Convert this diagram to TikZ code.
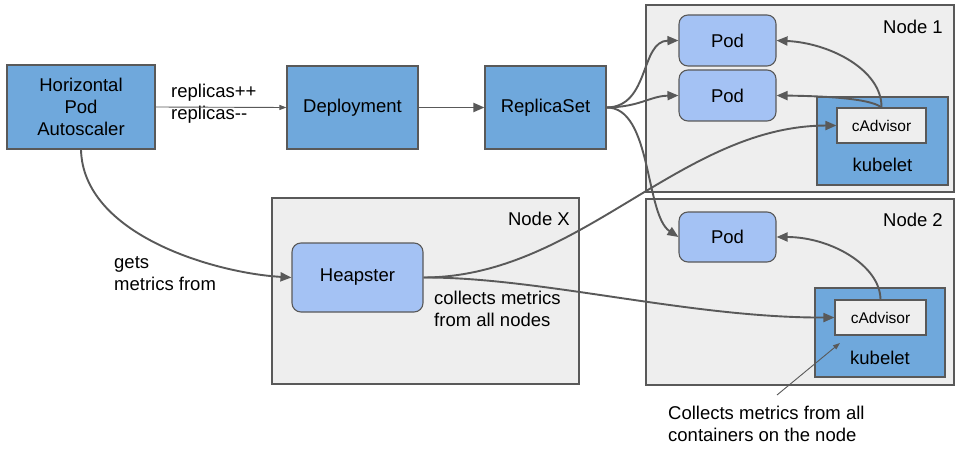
\documentclass[tikz,border=0pt]{standalone}
\usepackage{fontspec}
\setmainfont{Liberation Sans}
\usetikzlibrary{arrows.meta}
\definecolor{boxblue}{HTML}{6FA8DC}
\definecolor{podblue}{HTML}{A4C2F4}
\definecolor{nodegray}{HTML}{EEEEEE}
\definecolor{linegray}{HTML}{595959}
\tikzset{
  mainfont/.style={font=\fontsize{18.5}{22}\selectfont},
  box/.style={draw=linegray, line width=1.1pt, fill=boxblue, mainfont, align=center, inner sep=0pt},
  podbox/.style={draw=linegray, line width=1.1pt, fill=podblue, rounded corners=9pt, mainfont, inner sep=0pt},
  nodebox/.style={draw=linegray, line width=1.1pt, fill=nodegray, inner sep=0pt},
  cadv/.style={draw=linegray, line width=1.1pt, fill=nodegray, font=\fontsize{15.5}{18}\selectfont, inner sep=0pt},
  txt/.style={mainfont, inner sep=0pt, align=left},
  arr/.style={draw=linegray, line width=1.9pt, -{Triangle[length=11pt,width=9pt]}},
  thinarr/.style={draw=linegray, line width=0.9pt, -{Triangle[length=7pt,width=5pt]}},
}
\begin{document}
\begin{tikzpicture}[x=1pt,y=-1pt]
\useasboundingbox (0,0) rectangle (960,449);
\fill[white] (0,0) rectangle (960,449);
% container boxes
\node[nodebox, minimum width=308pt, minimum height=187pt] (node1) at (800,98.5) {};
\node[nodebox, minimum width=308pt, minimum height=186pt] (node2) at (800,292) {};
\node[nodebox, minimum width=307pt, minimum height=186pt] (nodex) at (425.5,291) {};
\node[txt, anchor=east] (node1lbl) at (943,27) {Node 1};
\node[txt, anchor=east] (node2lbl) at (943,220) {Node 2};
\node[txt, anchor=east] (nodexlbl) at (570,219) {Node X};
% main boxes
\node[box, minimum width=148pt, minimum height=84pt] (hpa) at (81,107) {Horizontal\\Pod\\Autoscaler};
\node[box, minimum width=131pt, minimum height=83pt] (dep) at (352.5,107.5) {Deployment};
\node[box, minimum width=121pt, minimum height=83pt] (rs) at (545.5,107.5) {ReplicaSet};
% node 1 content
\node[box, minimum width=131pt, minimum height=88pt] (kub1) at (882.5,141) {};
\node[txt] (kub1lbl) at (882.5,165) {kubelet};
\node[cadv, minimum width=89pt, minimum height=35pt] (cad1) at (881.5,125.5) {cAdvisor};
\node[podbox, minimum width=97pt, minimum height=51pt] (pod1) at (727.5,40.5) {Pod};
\node[podbox, minimum width=97pt, minimum height=51pt] (pod2) at (727.5,95.5) {Pod};
% node 2 content
\node[box, minimum width=130pt, minimum height=89pt] (kub2) at (880,332.5) {};
\node[txt] (kub2lbl) at (880,358) {kubelet};
\node[cadv, minimum width=91pt, minimum height=35pt] (cad2) at (880.5,317.5) {cAdvisor};
\node[podbox, minimum width=97pt, minimum height=50pt] (pod3) at (727.5,237) {Pod};
% node X content
\node[podbox, minimum width=131pt, minimum height=69pt] (heap) at (357.5,277.5) {Heapster};
% labels
\node[txt, anchor=west] (repl) at (171,104) {replicas++\\replicas{-}{-}};
\node[txt, anchor=west] (gets) at (114,273.5) {gets\\metrics from};
\node[txt, anchor=west] (coll) at (434,308.5) {collects metrics\\from all nodes};
\node[txt, anchor=west] (ann) at (668,424) {Collects metrics from all\\containers on the node};
\coordinate (annstart) at (777,395);
\coordinate (annend) at (840,343);
% connectors
\draw[thinarr] (hpa.east) -- (dep.west);
\draw[arr] (dep.east) -- (rs.west);
\draw[arr] (rs.east) .. controls (650,107) and (640,41) .. (pod1.west);
\draw[arr] (rs.east) .. controls (640,107) and (650,96) .. (pod2.west);
\draw[arr] (rs.east) .. controls (652,107) and (645,215) .. (pod3.west);
\draw[arr] (hpa.south) .. controls (83,235) and (215,273) .. (heap.west);
\draw[arr] (heap.east) .. controls (580,277) and (680,126) .. (cad1.west);
\draw[arr] (heap.east) .. controls (540,277) and (690,318) .. (cad2.west);
\draw[arr] (cad1.north) .. controls (882,70) and (830,43) .. (pod1.east);
\draw[arr] (cad1.north) .. controls (870,98) and (820,96) .. (pod2.east);
\draw[arr] (cad2.north) .. controls (880,265) and (830,237) .. (pod3.east);
\draw[thinarr] (annstart) -- (annend);
\end{tikzpicture}
\end{document}
